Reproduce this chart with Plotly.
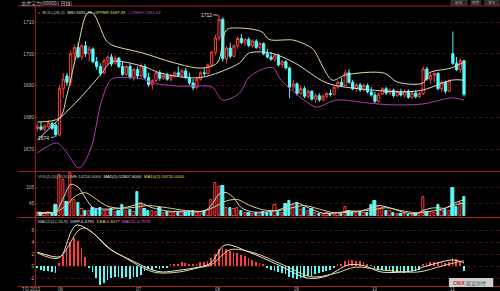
import plotly.graph_objects as go

# ---------------- data ----------------
idx = list(range(116))
open_ = [1676.5,1677.0,1676.2,1677.0,1678.0,1677.5,1674.5,1689.0,1693.0,1691.0,
         1700.0,1702.0,1699.0,1702.5,1700.0,1701.5,1697.5,1696.0,1694.0,1697.8,
         1699.0,1697.0,1698.6,1696.0,1693.5,1696.0,1692.5,1695.0,1693.0,1696.0,
         1692.5,1690.3,1691.5,1694.0,1692.3,1693.2,1692.0,1693.0,1694.0,1693.2,
         1694.6,1692.6,1690.8,1689.3,1692.0,1694.0,1693.8,1696.5,1700.5,1705.0,
         1710.8,1698.5,1701.8,1699.2,1702.5,1704.8,1703.5,1704.5,1702.6,1704.0,
         1702.0,1703.2,1700.0,1699.0,1698.3,1699.5,1696.5,1697.5,1695.5,1689.5,
         1690.5,1687.5,1689.0,1686.6,1688.2,1685.7,1686.8,1685.5,1686.6,1687.5,
         1687.2,1689.5,1691.0,1690.0,1694.0,1691.0,1689.0,1690.2,1688.6,1690.0,
         1688.0,1687.0,1685.0,1687.3,1689.0,1687.6,1688.5,1686.8,1688.0,1687.0,
         1688.2,1686.3,1687.6,1686.5,1687.5,1695.2,1692.0,1693.2,1693.8,1689.0,
         1691.0,1688.2,1700.0,1697.0,1695.0,1697.8]
high = [1678.0,1678.5,1677.8,1679.0,1678.6,1678.2,1690.0,1694.0,1694.0,1701.0,
        1703.0,1703.5,1703.0,1704.0,1702.5,1702.0,1699.0,1697.0,1698.5,1699.5,
        1700.0,1699.5,1699.0,1697.5,1696.5,1697.0,1695.5,1696.0,1697.0,1696.8,
        1694.0,1692.0,1694.5,1694.8,1693.8,1694.0,1693.5,1694.5,1696.0,1695.2,
        1695.5,1694.0,1692.0,1692.5,1694.5,1695.5,1697.0,1701.0,1706.0,1712.2,
        1711.5,1702.5,1703.5,1703.0,1705.5,1706.2,1705.0,1705.2,1704.5,1704.6,
        1703.8,1703.6,1701.5,1700.5,1700.0,1700.0,1698.0,1698.0,1696.0,1691.8,
        1691.0,1690.0,1689.8,1688.8,1688.5,1687.5,1687.6,1687.2,1688.0,1688.8,
        1690.0,1691.5,1692.5,1695.0,1695.2,1691.8,1690.8,1690.8,1690.5,1690.6,
        1689.5,1688.0,1687.8,1689.5,1689.6,1689.0,1689.0,1688.6,1689.0,1688.8,
        1688.8,1688.0,1688.5,1688.0,1696.0,1695.8,1694.0,1694.0,1694.2,1691.5,
        1691.5,1692.0,1707.0,1699.0,1698.5,1698.0]
low = [1675.5,1675.8,1675.5,1676.5,1676.0,1673.8,1674.0,1686.0,1690.0,1690.0,
       1698.0,1698.5,1698.0,1699.0,1697.5,1697.0,1695.0,1693.0,1693.5,1696.5,
       1696.0,1696.5,1695.5,1693.0,1693.0,1692.0,1691.5,1692.0,1692.5,1692.0,
       1689.5,1688.8,1691.0,1691.5,1691.8,1691.5,1691.2,1692.5,1692.8,1692.5,
       1692.0,1690.0,1688.5,1689.0,1691.5,1693.0,1693.5,1696.0,1699.5,1704.0,
       1697.5,1697.0,1698.5,1698.8,1701.5,1703.0,1702.5,1702.0,1702.0,1701.5,
       1701.0,1699.5,1698.5,1697.8,1697.5,1696.0,1695.5,1695.0,1686.0,1688.5,
       1686.8,1687.0,1686.0,1686.0,1685.2,1684.5,1684.8,1685.0,1686.0,1686.5,
       1686.8,1688.8,1689.5,1689.8,1690.5,1688.5,1688.0,1688.0,1688.2,1687.5,
       1686.5,1684.3,1684.6,1687.0,1687.0,1687.0,1686.2,1686.4,1686.5,1686.2,
       1685.8,1685.8,1686.0,1686.0,1687.0,1691.5,1690.5,1691.0,1688.5,1688.0,
       1687.5,1688.0,1696.5,1694.5,1694.0,1686.5]
close = [1677.0,1676.2,1677.2,1678.3,1676.5,1674.5,1689.0,1692.0,1691.0,1700.0,
         1702.0,1699.0,1702.5,1700.0,1701.5,1697.5,1696.0,1693.8,1697.8,1699.0,
         1696.8,1698.6,1696.0,1693.5,1696.0,1692.5,1695.0,1693.0,1696.2,1692.5,
         1690.3,1691.5,1694.0,1692.3,1693.2,1692.0,1693.0,1694.0,1693.2,1694.6,
         1692.6,1690.8,1689.3,1692.0,1694.0,1693.8,1696.5,1700.5,1705.0,1710.8,
         1698.5,1701.8,1699.2,1702.5,1704.8,1703.5,1704.5,1702.6,1704.0,1702.0,
         1703.2,1700.0,1699.0,1698.3,1699.5,1696.5,1697.5,1695.5,1689.5,1690.5,
         1687.5,1689.0,1686.6,1688.2,1685.7,1686.8,1685.5,1686.6,1687.5,1687.2,
         1689.5,1691.0,1690.0,1694.0,1691.0,1689.0,1690.2,1688.6,1690.0,1688.0,
         1687.0,1685.0,1687.3,1689.0,1687.6,1688.5,1686.8,1688.0,1687.0,1688.2,
         1686.3,1687.6,1686.5,1687.5,1695.2,1692.0,1693.2,1693.8,1689.0,1691.0,
         1688.2,1691.5,1697.0,1695.0,1697.8,1687.2]
volume = [12,10,8,14,10,40,150,130,51,158,60,47,25,20,18,28,22,30,20,18,
          24,16,20,40,18,22,15,87,47,25,20,18,15,29,12,14,10,12,16,10,
          12,15,20,12,14,18,22,60,120,105,110,30,28,25,30,20,12,10,8,12,
          9,14,10,12,40,15,12,45,55,40,48,22,29,18,25,12,8,6,10,7,
          9,11,8,33,20,15,12,14,10,12,40,55,35,29,20,18,10,8,7,6,
          5,8,6,7,69,15,14,12,40,18,22,20,102,33,47,69]
macd_hist = [-0.3,-0.6,-0.8,-0.9,-1.0,-1.2,0.5,1.8,3.0,4.0,4.6,4.2,3.0,1.5,-0.3,-1.0,-2.0,-3.2,-2.8,-2.3,
             -2.0,-1.9,-1.8,-2.0,-1.9,-2.1,-1.9,-1.8,-1.5,-0.8,-0.5,-0.6,-0.4,-0.5,-0.3,-0.4,0.2,0.3,0.4,0.6,
             0.5,0.4,0.2,0.3,0.6,0.7,0.9,1.3,2.0,2.8,3.0,2.8,2.5,2.3,2.1,1.8,1.6,1.3,1.0,0.7,
             0.5,0.2,-0.3,-0.6,-0.8,-1.0,-1.2,-1.4,-1.9,-2.0,-2.1,-2.0,-1.9,-1.7,-1.6,-1.4,-1.2,-1.0,-0.8,-0.6,
             -0.3,0.2,0.4,0.8,1.0,1.0,0.9,0.8,0.6,0.4,0.1,-0.4,-0.6,-0.6,-0.8,-0.9,-1.0,-1.0,-1.0,-1.1,
             -1.0,-0.9,-0.8,-0.6,0.2,0.5,0.6,0.7,0.6,0.6,0.5,0.6,1.3,1.2,0.6,-0.76]

upper_x = [0,6,8,10.5,13.5,15,18.5,20,28.5,37,44,48.5,51,54.5,60.5,62.5,69,73,74.5,79.5,83,93.5,97,104,105.5,111.5,115]
upper_y = [1678.5,1679.8,1687.0,1699.6,1712.8,1712.8,1704.3,1702.8,1700.2,1697.1,1695.5,1697.1,1707.5,1708.1,1706.9,1704.5,1704.3,1702.5,1701.2,1691.7,1693.3,1693.9,1691.1,1690.8,1693.9,1695.5,1697.4]
mid_x = [0,11,17.4,20,28.6,33,41.5,46,54.5,57,63,69.4,78,86.5,99,104,111.7,115]
mid_y = [1672.8,1685.4,1693.9,1697.5,1696.0,1694.0,1692.4,1693.0,1697.1,1700.2,1700.2,1697.1,1690.8,1689.0,1688.0,1688.6,1691.7,1691.7]
lower_x = [0,5.2,7.8,11.2,14.3,17.4,20,24,28.6,31.2,38,46,47.5,49.9,54.5,57.1,61.6,63.6,65.7,71.9,75.3,80.5,89.1,95.3,104,111.7,115]
lower_y = [1668.7,1671.9,1669.1,1664.0,1669.7,1685.4,1692.0,1692.5,1692.0,1690.8,1689.8,1689.8,1689.2,1685.4,1687.6,1692.7,1695.5,1695.5,1691.7,1685.4,1683.2,1685.4,1684.5,1683.9,1684.2,1686.1,1685.4]

ma5_x = [0,5,7,9,11,13,15,18,22,25,28,31,35,40,45,47,49,51,53,55,58,62,65,68,70,73,77,81,84,87,90,92,95,99,102,104,106,108,110,112,114,115]
ma5_y = [10,17,65,115,105,65,30,25,27,35,45,30,18,17,18,40,80,85,65,30,15,15,22,40,48,30,10,12,18,18,30,38,30,12,8,20,28,30,28,45,55,60]
ma10_x = [0,5,8,10,13,16,19,23,27,30,35,40,45,48,51,54,57,61,65,68,72,76,80,85,90,94,98,102,105,109,112,115]
ma10_y = [14,15,40,70,85,60,35,28,33,38,30,20,18,35,55,60,40,22,20,28,38,25,12,15,22,30,20,12,15,25,38,48]

diff_x = [0,5.2,6.5,9.1,10.4,12.2,15.6,18.2,20.8,24.2,27.8,31.2,33.8,38.2,43.4,46.8,50.6,57.1,64.9,72.7,77.9,83.9,88.3,92.7,101.3,103.9,111.7,114.3,115]
diff_y = [2.3,1.5,1.7,5.7,6.8,6.6,5.2,3.5,2.3,1.3,0.2,-0.7,-1.0,-0.7,-0.2,0.5,3.5,2.3,0.2,-2.0,-1.7,0.2,0.0,-1.0,-0.8,-0.2,1.0,0.7,0.48]
dea_x = [0,5.7,11.2,13.0,16.4,20.0,23.4,27.8,32.0,38.2,43.4,46.8,52.0,58.4,66.2,74.0,80.5,85.7,93.5,102.6,109.1,114.3,115]
dea_y = [2.2,1.3,6.0,6.3,4.7,2.7,1.5,-0.1,-1.1,-1.0,-0.3,0.2,2.7,2.2,0.2,-1.8,-1.2,-0.2,-0.7,-1.0,0.0,0.8,0.81]

price_ticks = [1670, 1680, 1690, 1700, 1710]
vol_ticks = [45, 105]
vol_tick_text = ["45", "105"]
macd_ticks = [-2, 0, 2, 4, 6]
month_pos = [45, 126, 207, 289, 370, 451]   # pixel centres of month labels
month_text = ["06", "07", "08", "09", "10", "11"]

# ---------------- figure ----------------
W, H = 500, 291
RED = "#ff3c3c"
CYAN = "#54fcfc"
BORDER = "#a51e1e"
GRID = "#4a1010"

def py(p):
    return 1 - p / H

fig = go.Figure()

fig.add_trace(go.Candlestick(
    x=idx, open=open_, high=high, low=low, close=close,
    increasing=dict(line=dict(color=RED, width=1), fillcolor="#000000"),
    decreasing=dict(line=dict(color=CYAN, width=1), fillcolor=CYAN),
    whiskerwidth=0, xaxis="x", yaxis="y", showlegend=False, hoverinfo="skip"))

for xs, ys, col in [(upper_x, upper_y, "#e2dca8"), (mid_x, mid_y, "#d8d8d8"), (lower_x, lower_y, "#b838b8")]:
    fig.add_trace(go.Scatter(x=xs, y=ys, mode="lines", line=dict(color=col, width=1, shape="spline", smoothing=0.9),
                             xaxis="x", yaxis="y", showlegend=False, hoverinfo="skip"))

up = [c >= o for o, c in zip(open_, close)]
fig.add_trace(go.Bar(
    x=idx, y=volume, width=0.62,
    marker=dict(color=["#000000" if u else CYAN for u in up],
                line=dict(color=[RED if u else CYAN for u in up], width=1)),
    xaxis="x2", yaxis="y2", showlegend=False, hoverinfo="skip"))
fig.add_trace(go.Scatter(x=ma5_x, y=ma5_y, mode="lines", line=dict(color="#d8d8d8", width=1, shape="spline", smoothing=0.8),
                         xaxis="x2", yaxis="y2", showlegend=False, hoverinfo="skip"))
fig.add_trace(go.Scatter(x=ma10_x, y=ma10_y, mode="lines", line=dict(color="#e0cf80", width=1, shape="spline", smoothing=0.8),
                         xaxis="x2", yaxis="y2", showlegend=False, hoverinfo="skip"))

fig.add_trace(go.Bar(
    x=idx, y=macd_hist, width=0.2,
    marker=dict(color=[RED if v >= 0 else CYAN for v in macd_hist], line=dict(width=0)),
    xaxis="x3", yaxis="y3", showlegend=False, hoverinfo="skip"))
fig.add_trace(go.Scatter(x=diff_x, y=diff_y, mode="lines", line=dict(color="#e8e8e8", width=1, shape="spline", smoothing=0.9),
                         xaxis="x3", yaxis="y3", showlegend=False, hoverinfo="skip"))
fig.add_trace(go.Scatter(x=dea_x, y=dea_y, mode="lines", line=dict(color="#e6d68a", width=1, shape="spline", smoothing=0.9),
                         xaxis="x3", yaxis="y3", showlegend=False, hoverinfo="skip"))

xr = [-0.52, 124.7]
xdom = [18 / W, 1]
xcommon = dict(range=xr, domain=xdom, showticklabels=False, showgrid=False, zeroline=False, showline=False, ticks="")
tickfont = dict(size=5, color="#b4b4b4", family="Liberation Sans")
ycommon = dict(showgrid=True, gridcolor=GRID, griddash="dot", gridwidth=1, zeroline=False, showline=False,
               ticks="", tickfont=tickfont, fixedrange=True)

fig.update_layout(
    width=W, height=H, margin=dict(l=18, r=0, t=0, b=0),
    paper_bgcolor="#000000", plot_bgcolor="#000000",
    boxgap=0.4, boxgroupgap=0, bargap=0,
    xaxis=dict(**xcommon, anchor="y", rangeslider=dict(visible=False)),
    xaxis2=dict(**xcommon, anchor="y2"),
    xaxis3=dict(**xcommon, anchor="y3"),
    yaxis=dict(**ycommon, domain=[py(171), py(6)], range=[1663.07, 1715.04],
               tickvals=price_ticks, ticktext=[str(v) for v in price_ticks]),
    yaxis2=dict(**ycommon, domain=[py(216), py(172)], range=[0, 160],
                tickvals=vol_ticks, ticktext=vol_tick_text),
    yaxis3=dict(**ycommon, domain=[py(286), py(218)], range=[-3.333, 8],
                tickvals=macd_ticks, ticktext=[str(v) for v in macd_ticks]),
    showlegend=False,
)

shapes = []
for p in [6, 171.5, 217.5, 286.5]:
    shapes.append(dict(type="line", xref="paper", yref="paper", x0=0, x1=1, y0=py(p), y1=py(p),
                       line=dict(color=BORDER, width=1)))
shapes.append(dict(type="line", xref="paper", yref="paper", x0=18 / W, x1=18 / W, y0=py(286.5), y1=py(6),
                   line=dict(color=BORDER, width=1)))
# logo box and top buttons
shapes.append(dict(type="rect", xref="paper", yref="paper", x0=447 / W, x1=493 / W, y0=py(287), y1=py(278),
                   fillcolor="#cfcfcf", line=dict(width=0)))
for a, b in [(449, 466), (470, 480), (484, 499)]:
    shapes.append(dict(type="rect", xref="paper", yref="paper", x0=a / W, x1=b / W, y0=py(5), y1=py(0.5),
                       fillcolor="#2a2a2a", line=dict(color="#555555", width=0.5)))
fig.update_layout(shapes=shapes)

def ann(x, y, text, size=5, color="#c8c8c8", xanchor="left", family="Liberation Sans"):
    return dict(x=x / W, y=py(y), xref="paper", yref="paper", text=text, showarrow=False,
                xanchor=xanchor, yanchor="middle", font=dict(size=size, color=color, family=family))

anns = [
    ann(1, 3, "龙虎宝力(000001 日线)", size=5, color="#c0c0c0", family="Noto Sans CJK SC"),
    ann(19, 13, "<span style='color:#9a9a9a'>x</span>  BOLL(26,2)  <span style='color:#e8e8e8'>MID:1691.73</span>  "
               "<span style='color:#e8e060'>UPPER:1697.81</span>  <span style='color:#c040c0'>LOWER:1685.64</span>",
        size=4.3, color="#c8c8c8"),
    ann(19, 176, "VOL(5,10) VOLUME:14256.0000  <span style='color:#e8e8e8'>MA5(1):12807.6000</span>  "
                "<span style='color:#e8d060'>MA10(2):26720.0000</span>", size=4.3, color="#c8c8c8"),
    ann(19, 221.5, "MACD(12,26,9)  <span style='color:#e8e8e8'>DIFF:0.4791</span>  "
                  "<span style='color:#e8d060'>DEA:0.8077</span>  <span style='color:#e060e0'>MACD:-0.7572</span>",
        size=4.3, color="#c8c8c8"),
    ann(2, 289, "T:D 2013", size=4.5, color="#b4b4b4"),
    ann(449, 282.5, "<span style='color:#d01818'><b>CNIX</b></span><span style='color:#555555'> 赢富财经</span>",
        size=5, color="#555555", family="Noto Sans CJK SC"),
    ann(457.5, 2.8, "画线", size=3.5, color="#9a9a9a", xanchor="center", family="Noto Sans CJK SC"),
    ann(475, 2.8, "周期", size=3.5, color="#9a9a9a", xanchor="center", family="Noto Sans CJK SC"),
    ann(491.5, 2.8, "复权", size=3.5, color="#9a9a9a", xanchor="center", family="Noto Sans CJK SC"),
]
for xp, t in zip(month_pos, month_text):
    anns.append(ann(xp, 289, t, size=4.5, color="#b4b4b4", xanchor="center"))

# extreme-value markers
hi_i = max(idx, key=lambda i: high[i])
lo_i = min(idx, key=lambda i: low[i])
anns.append(dict(x=hi_i, y=high[hi_i], xref="x", yref="y", text=f"{round(high[hi_i])}", showarrow=True,
                 arrowhead=0, arrowwidth=0.8, arrowcolor="#e0e0e0", ax=-13, ay=0, standoff=1,
                 font=dict(size=5, color="#e8e8e8", family="Liberation Sans")))
anns.append(dict(x=lo_i, y=low[lo_i], xref="x", yref="y", text=f"{round(low[lo_i])}", showarrow=True,
                 arrowhead=0, arrowwidth=0.8, arrowcolor="#e0e0e0", ax=-12, ay=1, standoff=1,
                 font=dict(size=5, color="#e8e8e8", family="Liberation Sans")))
fig.update_layout(annotations=anns)

fig.write_html("out.html")
